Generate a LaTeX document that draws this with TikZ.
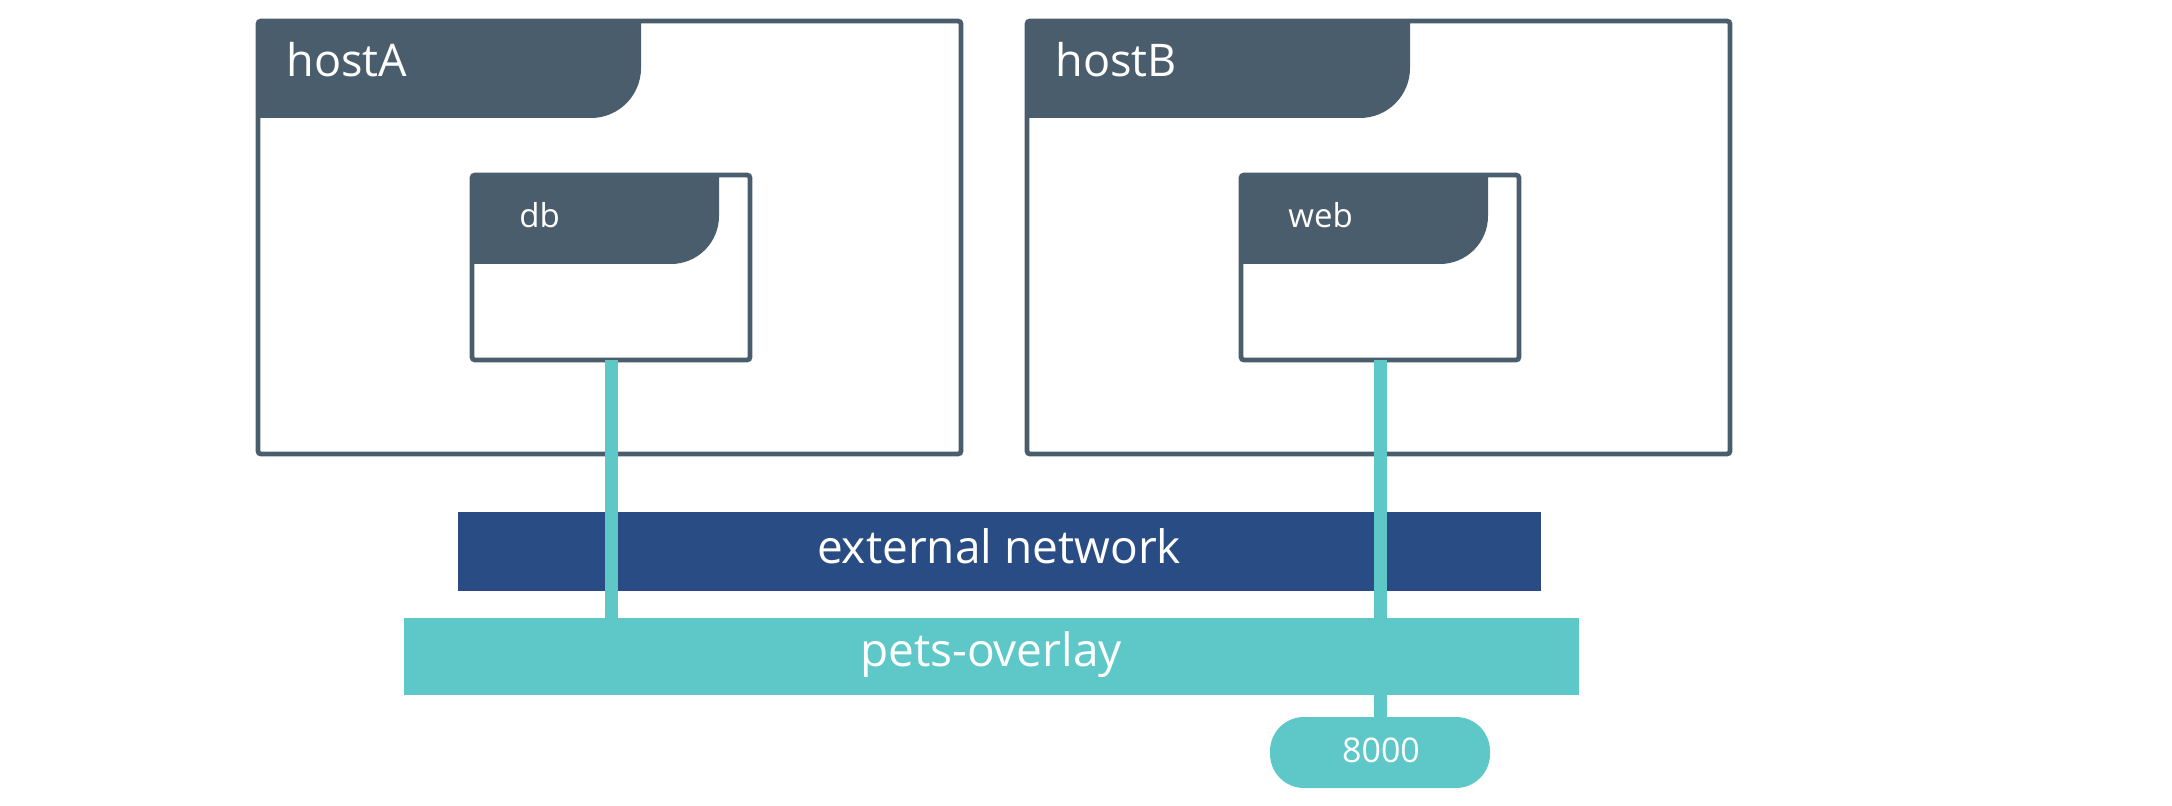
\documentclass[tikz,border=0pt]{standalone}
\usepackage{fontspec}
\setmainfont{Open Sans}
\definecolor{slate}{HTML}{4A5D6D}
\definecolor{navy}{HTML}{294C85}
\definecolor{teal}{HTML}{5EC8C8}
\begin{document}
\begin{tikzpicture}[x=0.5pt,y=-0.5pt,
  frame/.style={draw=slate,line width=2.4pt,rounded corners=1.5pt,fill=none,inner sep=0pt,outer sep=0pt},
  hdr/.style={fill=slate},
  hostlabel/.style={anchor=base west,text=white,font=\fontsize{22.5}{26}\selectfont,inner sep=0pt},
  ctrlabel/.style={anchor=base west,text=white,font=\fontsize{16.5}{20}\selectfont,inner sep=0pt},
  bar/.style={inner sep=0pt,outer sep=0pt},
  barlabel/.style={anchor=base,text=white,font=\fontsize{23}{27}\selectfont,inner sep=0pt},
  link/.style={draw=teal,line width=6.5pt},
  pill/.style={fill=teal,rounded corners=17pt,inner sep=0pt,outer sep=0pt,minimum width=110pt,minimum height=35.5pt}]
\useasboundingbox[fill=white] (0,0) rectangle (2172,806);
% headers
\fill[hdr] (258,21) -- (641,21) -- (641,68) arc[start angle=0,end angle=-90,radius=25pt] -- (258,118) -- cycle;
\fill[hdr] (472,175) -- (719,175) -- (719,216) arc[start angle=0,end angle=-90,radius=24pt] -- (472,264) -- cycle;
\fill[hdr] (1027,21) -- (1410,21) -- (1410,68) arc[start angle=0,end angle=-90,radius=25pt] -- (1027,118) -- cycle;
\fill[hdr] (1241,175) -- (1488,175) -- (1488,216) arc[start angle=0,end angle=-90,radius=24pt] -- (1241,264) -- cycle;
% frames
\node[frame,minimum width=351.5pt,minimum height=216.5pt] (hostA) at (609.5,237.5) {};
\node[frame,minimum width=139pt,minimum height=92.5pt] (db) at (611,267.5) {};
\node[frame,minimum width=351.5pt,minimum height=216.5pt] (hostB) at (1378.5,237.5) {};
\node[frame,minimum width=139pt,minimum height=92.5pt] (web) at (1380,267.5) {};
% labels
\node[hostlabel] (lA) at (286,77) {hostA};
\node[hostlabel] (lB) at (1055,77) {hostB};
\node[ctrlabel] (ldb) at (519,228) {db};
\node[ctrlabel] (lweb) at (1288,228) {web};
% networks
\node[bar,fill=navy,minimum width=541.5pt,minimum height=39.5pt] (ext) at (999.5,551.5) {};
\node[bar,fill=teal,minimum width=587.5pt,minimum height=38.5pt] (pets) at (991.5,656.5) {};
\node[pill] (port) at (1380,752.5) {};
% links
\draw[link] (db.south) -- (db.south |- pets.north);
\draw[link] (web.south) -- (port.north);
\node[barlabel] (lext) at (999,563) {external network};
\node[barlabel] (lpets) at (991,666) {pets-overlay};
\node[anchor=base,text=white,font=\fontsize{17}{20}\selectfont,inner sep=0pt] (lport) at (1381,762) {8000};
\end{tikzpicture}
\end{document}
